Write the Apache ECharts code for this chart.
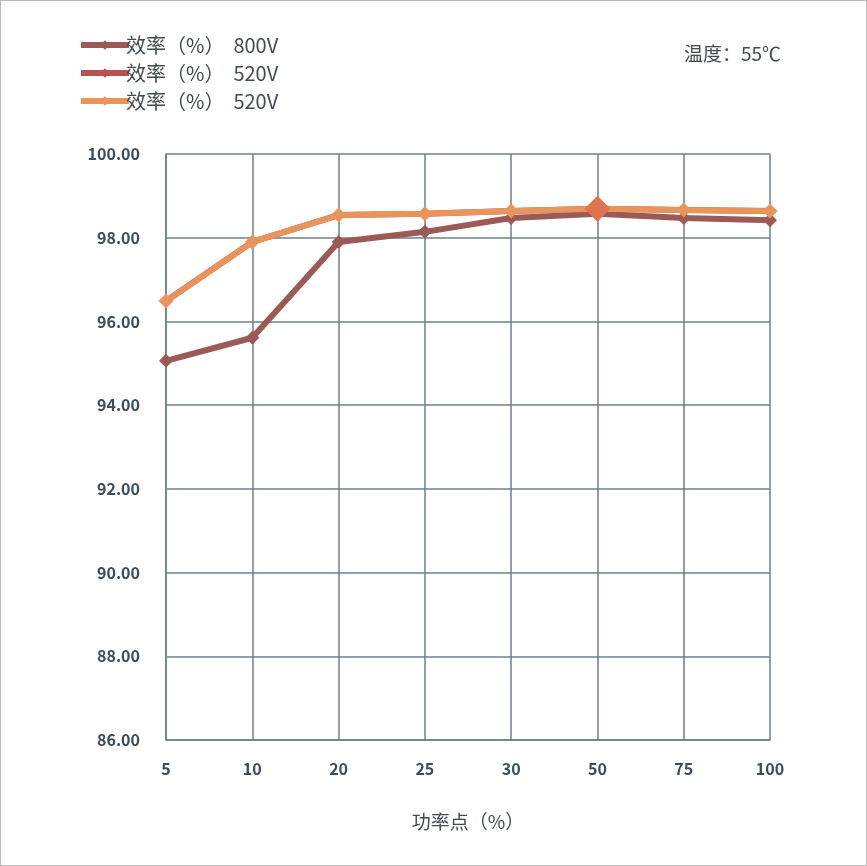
<!DOCTYPE html>
<html><head><meta charset="utf-8">
<script src="https://cdn.jsdelivr.net/npm/echarts@6/dist/echarts.min.js"></script>
<style>html,body{margin:0;padding:0;background:#fff}#c{width:867px;height:866px;box-sizing:border-box;border:1px solid #bbb}</style>
</head><body><div id="c"></div>
<script>
const categories = ['5','10','20','25','30','50','75','100'];
const eff800 = [95.06, 95.61, 97.90, 98.14, 98.47, 98.57, 98.47, 98.42];
const eff520a = [96.49, 97.90, 98.54, 98.57, 98.64, 98.69, 98.66, 98.64];
const eff520b = [96.49, 97.90, 98.54, 98.57, 98.64, 98.69, 98.66, 98.64];
const seriesNames = ['效率（%）  800V', '效率（%）  520V', '效率（%）  520V '];
const colors = ['#9c5a56', '#b8524f', '#e8945a'];

const chart = echarts.init(document.getElementById('c'));
const font = '"Noto Sans CJK SC", "Noto Sans", sans-serif';
chart.setOption({
  animation: false,
  textStyle: {fontFamily: font},
  title: {text: '温度：55℃', right: 80, top: 38, textStyle: {fontSize: 19, fontWeight: 'normal', color: '#3f4a52', fontFamily: font}},
  legend: {
    orient: 'vertical', left: 72, top: 29, itemGap: 8, itemWidth: 48, itemHeight: 12,
    textStyle: {fontSize: 20, color: '#3f4a52', fontFamily: font, padding: [0,0,0,-8]},
    lineStyle: {width: 6},
    data: seriesNames
  },
  grid: {left: 165, right: 96, top: 153, bottom: 125, containLabel: false},
  xAxis: {
    type: 'category', data: categories, boundaryGap: false,
    name: '功率点（%）', nameLocation: 'middle', nameGap: 72,
    nameTextStyle: {fontSize: 19, color: '#3f4a52', fontFamily: font},
    axisLine: {lineStyle: {color: '#6d7f89', width: 1.5}},
    axisTick: {show: false},
    axisLabel: {fontSize: 16, color: '#3b4d5a', fontWeight: 'bold', margin: 21},
    splitLine: {show: true, lineStyle: {color: '#6d7f89', width: 1.5}}
  },
  yAxis: {
    type: 'value', min: 86, max: 100, interval: 2,
    axisLine: {show: true, lineStyle: {color: '#6d7f89', width: 1.5}},
    axisTick: {show: false},
    axisLabel: {fontSize: 16, color: '#3b4d5a', fontWeight: 'bold', margin: 26, formatter: v => v.toFixed(2)},
    splitLine: {lineStyle: {color: '#6d7f89', width: 1.5}}
  },
  series: [
    {name: seriesNames[1], type: 'line', data: eff520b,
     symbol: 'diamond', symbolSize: 12, lineStyle: {width: 6, color: colors[1]}, itemStyle: {color: colors[1]}, z: 1},
    {name: seriesNames[0], type: 'line', data: eff800, symbol: 'diamond', symbolSize: 14,
     lineStyle: {width: 6, color: colors[0]}, itemStyle: {color: colors[0]}, z: 2},
    {name: seriesNames[2], type: 'line', data: eff520a.map((v,i)=> i===5 ? {value: v, symbolSize: 0} : v), symbol: 'diamond', symbolSize: 15,
     lineStyle: {width: 6, color: colors[2]}, itemStyle: {color: colors[2]}, z: 3},
    {name: 'hl', type: 'line', data: categories.map((c,i)=> i===5 ? eff520b[i] : null), symbol: 'diamond', symbolSize: 26,
     lineStyle: {width: 0}, itemStyle: {color: '#dc7450'}, z: 4, legendHoverLink: false}
  ]
});
</script></body></html>
